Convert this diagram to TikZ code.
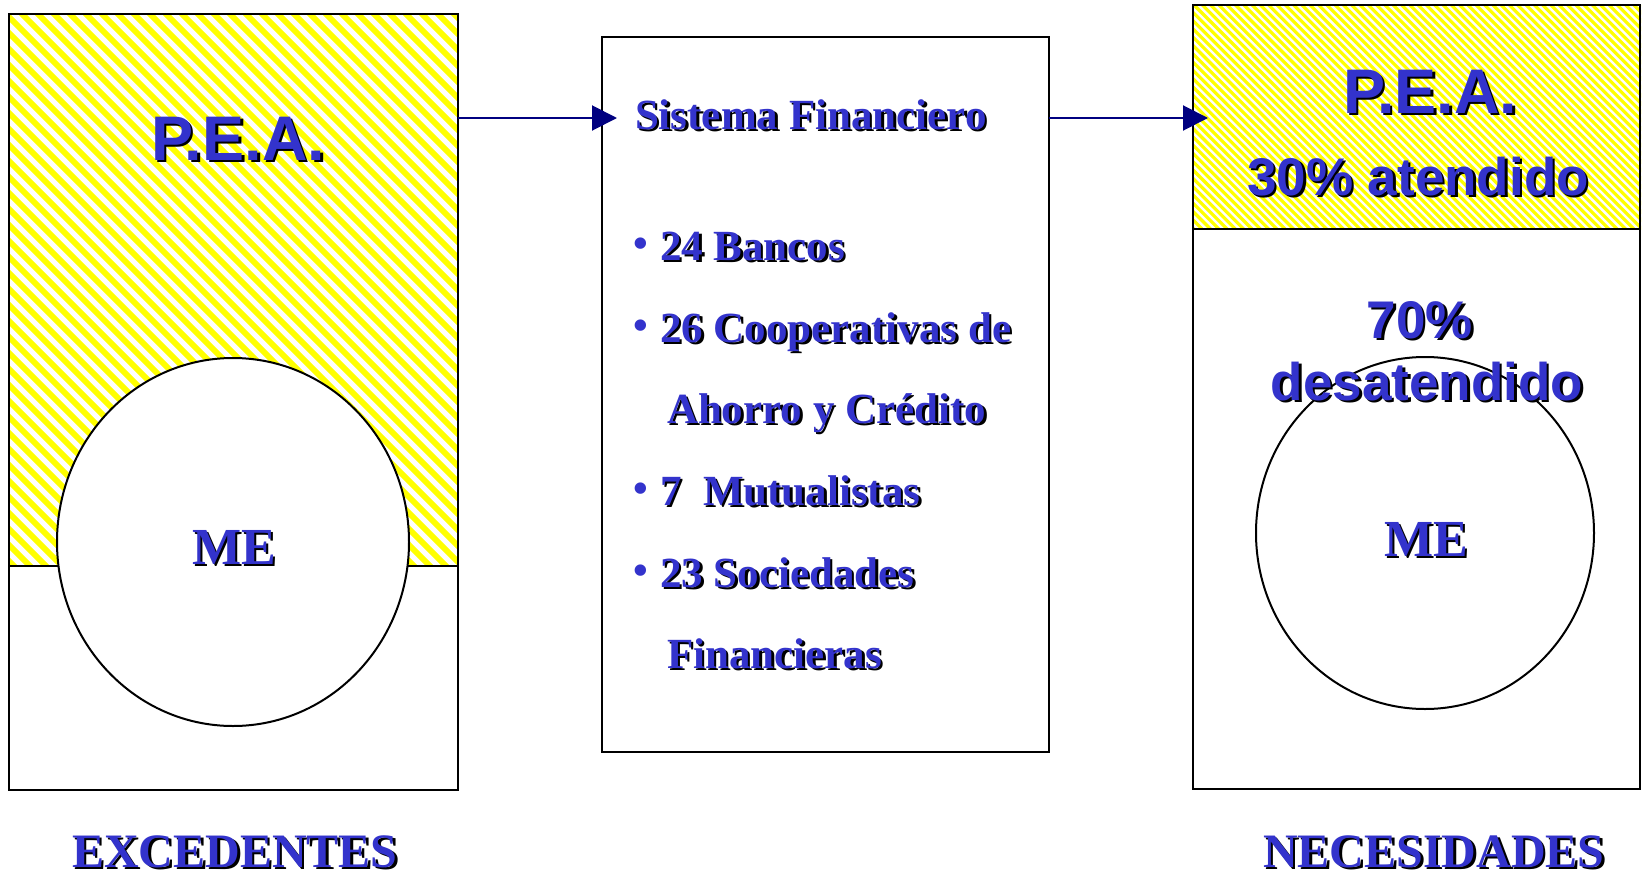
\documentclass[tikz,border=0pt]{standalone}
\usepackage{fontspec}
\setmainfont{Liberation Serif}
\newfontfamily\sansf{Liberation Sans}
\usetikzlibrary{arrows.meta,shapes.geometric}
\definecolor{txtblue}{RGB}{51,51,204}
\definecolor{navyarr}{RGB}{0,0,128}
\definecolor{hatchyellow}{RGB}{255,255,0}
\newcommand\fPEA{\sansf\bfseries\fontsize{63}{70}\selectfont}
\newcommand\fPct{\sansf\bfseries\fontsize{53}{60}\selectfont}
\newcommand\fMid{\bfseries\fontsize{43}{50}\selectfont}
\newcommand\fBul{\bfseries\fontsize{42}{50}\selectfont}
\newcommand\fME{\bfseries\fontsize{52}{60}\selectfont}
\newcommand\fFoot{\bfseries\fontsize{48}{55}\selectfont}
\newcommand\shlabel[4]{%
  \node[txt, text=black, #1] at ([shift={(2.5pt,-2.5pt)}]#3) {#4};
  \node[txt, text=txtblue, #1] (#2) at (#3) {#4};}
\begin{document}
\begin{tikzpicture}[x=1pt,y=-1pt,
  box/.style={draw=black, line width=2pt, inner sep=0pt, outer sep=0pt, rectangle},
  ring/.style={draw=black, line width=2pt, fill=white, ellipse, inner sep=0pt, outer sep=0pt},
  txt/.style={inner sep=0pt, outer sep=0pt, anchor=base},
  arr/.style={draw=navyarr, line width=2pt, -{Triangle[length=25pt,width=25pt]}},
  hatchL/.style={hatchyellow, line width=5.7pt},
  hatchR/.style={hatchyellow, line width=3.2pt}]
\useasboundingbox (0,0) rectangle (1642,878);
\fill[white] (0,0) rectangle (1642,878);

% left hatch
\begin{scope}
  \clip (9,14) rectangle (458,566);
  \foreach \i in {0,...,70} \draw[hatchL] (-600+16*\i,0) -- ++(900,900);
\end{scope}
% right hatch
\begin{scope}
  \clip (1193,5) rectangle (1641,229);
  \foreach \i in {0,...,88} \draw[hatchR] (940+8.3*\i,0) -- ++(300,300);
\end{scope}

% boxes
\node[box, minimum width=449pt, minimum height=776pt] (L) at (233.5,402) {};
\draw[line width=2pt] (L.west |- 0,566) -- (L.east |- 0,566);
\node[box, minimum width=447pt, minimum height=715pt] (M) at (825.5,394.5) {};
\node[box, minimum width=447pt, minimum height=784pt] (R) at (1416.5,397) {};
\draw[line width=2pt] (R.west |- 0,229) -- (R.east |- 0,229);

% circles
\node[ring, minimum width=352pt, minimum height=368pt] (LC) at (233,542) {};
\node[ring, minimum width=338pt, minimum height=352pt] (RC) at (1425,533) {};

% arrows
\coordinate (t1) at ([xshift=15pt]M.west);
\coordinate (t2) at ([xshift=15pt]R.west);
\draw[arr] (L.east |- 0,118) -- (t1 |- 0,118);
\draw[arr] (M.east |- 0,118) -- (t2 |- 0,118);

% left texts
\shlabel{font=\fPEA}{peaL}{238,160}{P.E.A.}
\shlabel{font=\fME}{meL}{234,564}{ME}
\shlabel{font=\fFoot}{exc}{235,867}{EXCEDENTES}

% right texts
\shlabel{font=\fPEA}{peaR}{1430,113}{P.E.A.}
\shlabel{font=\fPct}{aten}{1418,195}{30\% atendido}
\shlabel{font=\fPct}{setenta}{1420,338}{70\%}
\shlabel{font=\fPct}{desat}{1427,400}{desatendido}
\shlabel{font=\fME}{meR}{1426,556}{ME}
\shlabel{font=\fFoot}{nec}{1434,867}{NECESIDADES}

% middle texts
\shlabel{font=\fMid, anchor=base west}{sf}{635,129}{Sistema Financiero}
\shlabel{font=\fMid, anchor=base west}{l1}{660,260}{24 Bancos}
\shlabel{font=\fMid, anchor=base west}{l2}{660,342}{26 Cooperativas de}
\shlabel{font=\fMid, anchor=base west}{l3}{667,423}{Ahorro y Crédito}
\shlabel{font=\fMid, anchor=base west}{l4}{660,505}{7~~Mutualistas}
\shlabel{font=\fMid, anchor=base west}{l5}{660,587}{23 Sociedades}
\shlabel{font=\fMid, anchor=base west}{l6}{667,668}{Financieras}

% bullets
\node[txt, text=txtblue, font=\fBul] (b1) at (641,257) {•};
\node[txt, text=txtblue, font=\fBul] (b2) at (641,339) {•};
\node[txt, text=txtblue, font=\fBul] (b3) at (641,502) {•};
\node[txt, text=txtblue, font=\fBul] (b4) at (641,584) {•};
\end{tikzpicture}
\end{document}
